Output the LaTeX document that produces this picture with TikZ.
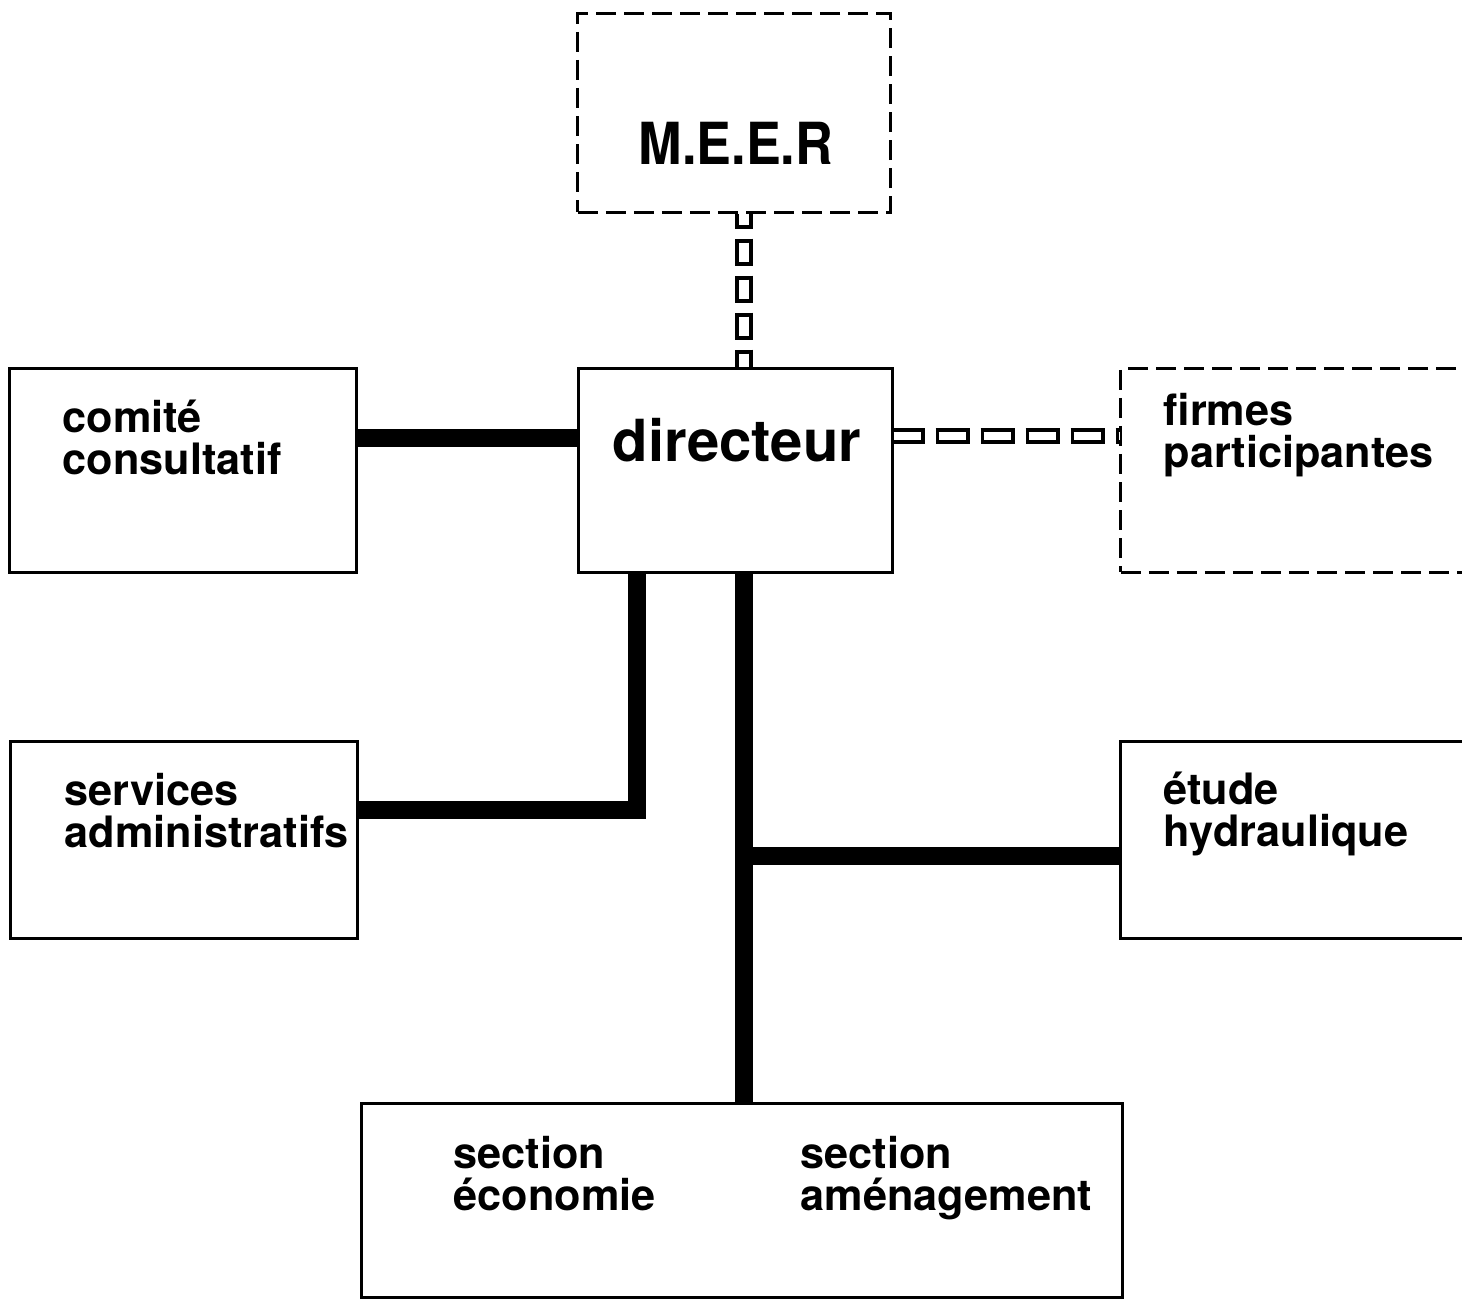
\documentclass[tikz,border=0pt]{standalone}
\usepackage{fontspec}
\setmainfont{TeX Gyre Heros}
\begin{document}
\begin{tikzpicture}[x=0.01cm,y=-0.01cm,
  box/.style={draw, rectangle, line width=0.03cm, inner sep=0pt},
  dbox/.style={box, dash pattern=on 0.2cm off 0.08cm},
  lbl/.style={anchor=base west, inner sep=0pt, align=left,
    font=\bfseries\fontsize{12.3pt}{11.7pt}\selectfont},
  big/.style={anchor=base west, inner sep=0pt,
    font=\bfseries\fontsize{16.5pt}{18pt}\selectfont},
  link/.style={line width=0.175cm, line cap=butt, line join=miter},
  ladderv/.style={line width=0.175cm, line cap=butt,
    dash pattern=on 0.27cm off 0.10cm, dash phase=0.12cm,
    postaction={draw=white, line width=0.095cm, line cap=butt,
      dash pattern=on 0.19cm off 0.18cm, dash phase=0.08cm}},
  ladderh/.style={line width=0.165cm, line cap=butt,
    dash pattern=on 0.34cm off 0.11cm, dash phase=0.03cm,
    postaction={draw=white, line width=0.085cm, line cap=butt,
      dash pattern=on 0.27cm off 0.18cm, dash phase=0cm}}]
\clip (0,0) rectangle (1462,1299);
\fill[white] (0,0) rectangle (1462,1299);

% boxes
\node[dbox, minimum width=3.12cm, minimum height=1.98cm] (meer) at (734,113) {};
\node[box, minimum width=3.13cm, minimum height=2.03cm] (dir) at (735.5,470.5) {};
\node[box, minimum width=3.46cm, minimum height=2.03cm] (com) at (183,470.5) {};
\node[dbox, minimum width=3.60cm, minimum height=2.03cm] (firm) at (1301,470.5) {};
\node[box, minimum width=3.46cm, minimum height=1.96cm] (serv) at (184,840) {};
\node[box, minimum width=3.60cm, minimum height=1.96cm] (etude) at (1301,840) {};
\node[box, minimum width=7.60cm, minimum height=1.93cm] (sect) at (742,1200.5) {};

% labels (anchor = baseline of the last line)
\node[big] (tmeer) at (638,164) {\scalebox{0.9}[1]{M.E.E.R}};
\node[big] (tdir) at (612,461) {directeur};
\node[lbl] (tcom) at (62,474) {comité\\consultatif};
\node[lbl] (tfirm) at (1163,467) {firmes\\participantes};
\node[lbl] (tserv) at (64,847) {services\\administratifs};
\node[lbl] (tetude) at (1163,846) {étude\\hydraulique};
\node[lbl] (tsec1) at (453,1210) {section\\économie};
\node[lbl] (tsec2) at (800,1210) {section\\aménagement};

% helper coordinates
\coordinate (kS) at (637,810);
\coordinate (kE) at (744,856);
\coordinate (yC) at (0,438);
\coordinate (yF) at (0,436);
\coordinate (xM) at (744,0);

% connectors
\draw[link] (com.east |- yC) -- (dir.west |- yC);
\draw[link] (dir.south -| kS) -- (kS) -- (serv.east |- kS);
\draw[link] (dir.south -| kE) -- (sect.north -| kE);
\draw[link] (kE) -- (etude.west |- kE);
\draw[ladderv] (meer.south -| xM) -- (dir.north -| xM);
\draw[ladderh] (dir.east |- yF) -- (firm.west |- yF);
\end{tikzpicture}
\end{document}
